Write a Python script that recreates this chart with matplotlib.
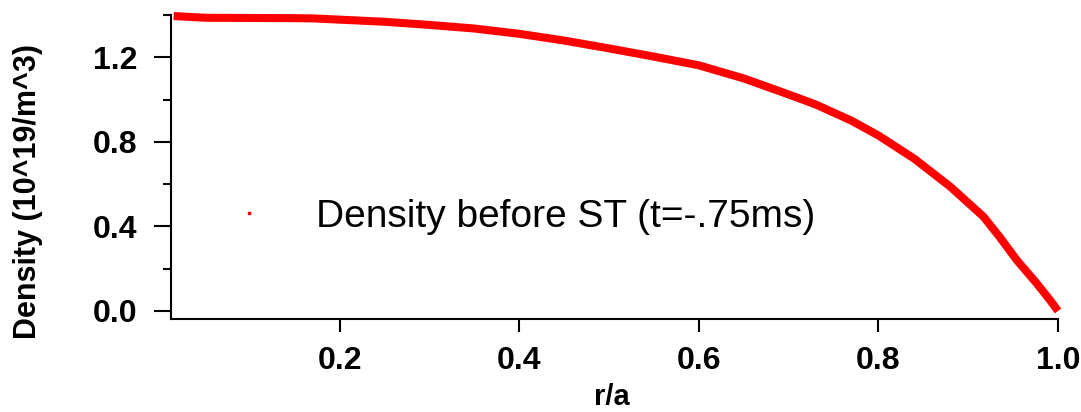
import numpy as np
import matplotlib
matplotlib.use("Agg")
import matplotlib.pyplot as plt
from matplotlib.lines import Line2D
from matplotlib.ticker import FixedLocator

# density profile before sawtooth crash, read along r/a
r_a = [0.015, 0.05, 0.10, 0.15, 0.17, 0.20, 0.25, 0.30, 0.35, 0.40,
       0.45, 0.50, 0.55, 0.60, 0.65, 0.70, 0.73, 0.77, 0.80, 0.84,
       0.88, 0.917, 0.935, 0.954, 0.976, 0.991, 1.00]
density = [1.395, 1.387, 1.386, 1.385, 1.384, 1.378, 1.368, 1.353, 1.336, 1.311,
           1.279, 1.242, 1.203, 1.162, 1.100, 1.024, 0.977, 0.900, 0.830, 0.720,
           0.588, 0.446, 0.350, 0.241, 0.132, 0.052, 0.0]

label_txt = "Density before ST (t=-.75ms)"
x_ticks = [0.2, 0.4, 0.6, 0.8, 1.0]
y_ticks = [0.0, 0.4, 0.8, 1.2]
y_minor = [0.2, 0.6, 1.0, 1.4]

plt.rcParams['font.family'] = ['Liberation Sans', 'DejaVu Sans']

W, H = 1081, 412
fig = plt.figure(figsize=(W/100, H/100), dpi=100)
ax = fig.add_axes([171/W, 1-319/H, (1058-171)/W, (319-15)/H])

ax.plot(r_a, density, color='red', lw=5.8, solid_capstyle='butt',
        solid_joinstyle='round', clip_on=False)

ax.set_xlim(0.012, 1.0)
ax.set_ylim(-0.038, 1.4)
ax.set_xticks(x_ticks)
ax.set_xticklabels(["%.1f" % v for v in x_ticks])
ax.set_yticks(y_ticks)
ax.set_yticklabels(["%.1f" % v for v in y_ticks])
ax.yaxis.set_minor_locator(FixedLocator(y_minor))

for s in ['top', 'right']:
    ax.spines[s].set_visible(False)
for s in ['left', 'bottom']:
    ax.spines[s].set_linewidth(1.5)

ax.tick_params(axis='y', which='major', length=12.2, width=1.5, pad=12,
               labelsize=23)
ax.tick_params(axis='y', which='minor', length=5.8, width=1.5)
ax.tick_params(axis='x', which='major', length=9.4, width=1.5, pad=10,
               labelsize=23)
for t in ax.get_xticklabels() + ax.get_yticklabels():
    t.set_fontweight('bold')

ax.set_xlabel("r/a", fontsize=21, fontweight='bold', va='top')
ax.xaxis.set_label_coords(0.497, -0.212)
ax.set_ylabel("Density (10^19/m^3)", fontsize=22, fontweight='bold', va='center')
ax.yaxis.set_label_coords(-0.161, 0.418)

handle = Line2D([], [], color='red', marker='s', markersize=1.5, linestyle='none')
leg = ax.legend([handle], [label_txt], loc='center left', frameon=False,
                bbox_to_anchor=(230/W, 1-217/H), bbox_transform=fig.transFigure,
                fontsize=28, handlelength=1.0, handletextpad=1.2, borderpad=0,
                borderaxespad=0)

fig.savefig("out.png", dpi=100)
